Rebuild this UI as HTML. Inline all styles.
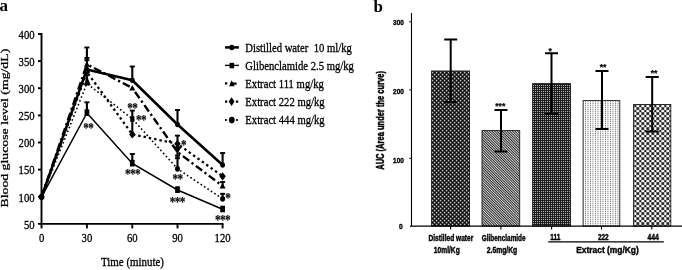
<!DOCTYPE html>
<html><head><meta charset="utf-8"><title>Figure</title>
<style>
html,body{margin:0;padding:0;background:#fff;}
svg{display:block;}
.se{font-family:"Liberation Serif","DejaVu Serif",serif;fill:#000;white-space:pre;}
.sa{font-family:"Liberation Sans","DejaVu Sans",sans-serif;fill:#000;font-weight:bold;}
</style></head><body>
<svg width="682" height="270" viewBox="0 0 682 270">
<defs>
<pattern id="p1" width="4" height="4" patternUnits="userSpaceOnUse" patternTransform="translate(431.8 151.75)"><rect width="4" height="4" fill="#000"/><rect x="0" y="0" width="1.4" height="1.5" fill="#fff"/><rect x="2" y="2" width="1.4" height="1.5" fill="#fff"/></pattern>
<pattern id="p2" width="1.8" height="1.8" patternUnits="userSpaceOnUse" patternTransform="rotate(45)"><rect width="1.8" height="1.8" fill="#e8e8e8"/><rect width="1.8" height="0.95" fill="#222"/></pattern>
<pattern id="p3" width="2" height="2" patternUnits="userSpaceOnUse" patternTransform="translate(533 85)"><rect width="2" height="2" fill="#1c1c1c"/><rect x="0" y="0" width="1" height="1" fill="#b4b4b4"/></pattern>
<pattern id="p4" width="5" height="2" patternUnits="userSpaceOnUse" patternTransform="translate(585 101)"><rect width="5" height="2" fill="#fff"/><rect x="0" y="0" width="0.9" height="1.3" fill="#777"/><rect x="2.5" y="0" width="0.9" height="1.3" fill="#777"/></pattern>
<pattern id="p5" width="5" height="5" patternUnits="userSpaceOnUse" patternTransform="translate(635.3 106.1)"><rect width="5" height="5" fill="#fff"/><path d="M0 0L5 5M5 0L0 5" stroke="#333" stroke-width="0.9"/><circle cx="2.5" cy="2.5" r="1.2" fill="#000"/><path d="M0 -1.25L1.25 0L0 1.25L-1.25 0ZM0 3.75L1.25 5L0 6.25L-1.25 5ZM5 -1.25L6.25 0L5 1.25L3.75 0ZM5 3.75L6.25 5L5 6.25L3.75 5Z" fill="#000"/></pattern>
</defs>
<rect width="682" height="270" fill="#fff"/>

<text class="se" x="-0.6" y="11" font-size="17" font-weight="bold">a</text>
<text class="se" x="373.5" y="11.5" font-size="17" font-weight="bold">b</text>
<g stroke="#000" stroke-width="1.9" fill="none">
<path d="M41.5 33V228.4"/>
<path d="M38 223.9H223.5"/>
<path d="M38 196.8H41.5"/>
<path d="M38 169.6H41.5"/>
<path d="M38 142.5H41.5"/>
<path d="M38 115.4H41.5"/>
<path d="M38 88.2H41.5"/>
<path d="M38 61.1H41.5"/>
<path d="M38 34.0H41.5"/>
<path d="M86.9 224V228.4"/>
<path d="M132.3 224V228.4"/>
<path d="M177.5 224V228.4"/>
<path d="M222.6 224V228.4"/>
</g>
<text class="se" transform="translate(34.6 228.6) scale(0.79 1)" font-size="13.5" text-anchor="end" stroke="#000" stroke-width="0.32" xml:space="preserve">50</text>
<text class="se" transform="translate(34.6 201.5) scale(0.79 1)" font-size="13.5" text-anchor="end" stroke="#000" stroke-width="0.32" xml:space="preserve">100</text>
<text class="se" transform="translate(34.6 174.3) scale(0.79 1)" font-size="13.5" text-anchor="end" stroke="#000" stroke-width="0.32" xml:space="preserve">150</text>
<text class="se" transform="translate(34.6 147.2) scale(0.79 1)" font-size="13.5" text-anchor="end" stroke="#000" stroke-width="0.32" xml:space="preserve">200</text>
<text class="se" transform="translate(34.6 120.1) scale(0.79 1)" font-size="13.5" text-anchor="end" stroke="#000" stroke-width="0.32" xml:space="preserve">250</text>
<text class="se" transform="translate(34.6 93.0) scale(0.79 1)" font-size="13.5" text-anchor="end" stroke="#000" stroke-width="0.32" xml:space="preserve">300</text>
<text class="se" transform="translate(34.6 65.8) scale(0.79 1)" font-size="13.5" text-anchor="end" stroke="#000" stroke-width="0.32" xml:space="preserve">350</text>
<text class="se" transform="translate(34.6 38.7) scale(0.79 1)" font-size="13.5" text-anchor="end" stroke="#000" stroke-width="0.32" xml:space="preserve">400</text>
<text class="se" transform="translate(41.6 242) scale(0.79 1)" font-size="13.5" text-anchor="middle" stroke="#000" stroke-width="0.32" xml:space="preserve">0</text>
<text class="se" transform="translate(86.9 242) scale(0.79 1)" font-size="13.5" text-anchor="middle" stroke="#000" stroke-width="0.32" xml:space="preserve">30</text>
<text class="se" transform="translate(132.3 242) scale(0.79 1)" font-size="13.5" text-anchor="middle" stroke="#000" stroke-width="0.32" xml:space="preserve">60</text>
<text class="se" transform="translate(177.5 242) scale(0.79 1)" font-size="13.5" text-anchor="middle" stroke="#000" stroke-width="0.32" xml:space="preserve">90</text>
<text class="se" transform="translate(222.6 242) scale(0.79 1)" font-size="13.5" text-anchor="middle" stroke="#000" stroke-width="0.32" xml:space="preserve">120</text>
<text class="se" transform="translate(132.5 266) scale(0.81 1)" font-size="13.5" text-anchor="middle" stroke="#000" stroke-width="0.32" xml:space="preserve">Time (minute)</text>
<text class="se" transform="translate(7.9 207.5) rotate(-90) scale(0.985 0.78)" font-size="14" stroke="#000" stroke-width="0.35">Blood glucose level (mg/dL)</text>
<polyline points="41.6,196.8 86.9,83.5 132.3,118.8 177.5,168.8 222.6,198.8" fill="none" stroke="#000" stroke-width="1.6" stroke-dasharray="1.6 2.5"/>
<polyline points="41.6,196.8 86.9,72.0 132.3,134.4 177.5,143.8 222.6,176.3" fill="none" stroke="#000" stroke-width="2.3" stroke-dasharray="2.4 3.0"/>
<path d="M41.6 196.8L86.9 64.3" fill="none" stroke="#000" stroke-width="2.4" stroke-dasharray="7.8 3.1 2.2 3.1" stroke-dashoffset="0"/>
<path d="M86.9 64.3L132.3 88.0" fill="none" stroke="#000" stroke-width="2.4" stroke-dasharray="7.8 3.1 2.2 3.1" stroke-dashoffset="8.1"/>
<path d="M132.3 88.0L177.5 152.0" fill="none" stroke="#000" stroke-width="2.4" stroke-dasharray="7.8 3.1 2.2 3.1" stroke-dashoffset="11.5"/>
<path d="M177.5 152.0L222.6 186.0" fill="none" stroke="#000" stroke-width="2.4" stroke-dasharray="7.8 3.1 2.2 3.1" stroke-dashoffset="9.4"/>
<polyline points="41.6,196.8 86.9,113.0 132.3,163.5 177.5,190.0 222.6,209.3" fill="none" stroke="#000" stroke-width="1.5"/>
<polyline points="41.6,196.8 86.9,69.4 132.3,80.3 177.5,124.5 222.6,165.0" fill="none" stroke="#000" stroke-width="2.6" stroke-linejoin="round"/>
<path d="M86.9 47.5V84" stroke="#000" stroke-width="2.1" fill="none"/>
<path d="M84.4 47.5H89.4" stroke="#000" stroke-width="1.9" fill="none"/>
<path d="M84.4 58H89.4" stroke="#000" stroke-width="1.9" fill="none"/>
<path d="M84.4 60.2H89.4" stroke="#000" stroke-width="1.9" fill="none"/>
<path d="M86.9 102.3V113" stroke="#000" stroke-width="2.1" fill="none"/>
<path d="M84.4 102.3H89.4" stroke="#000" stroke-width="1.9" fill="none"/>
<path d="M132.3 66.5V81" stroke="#000" stroke-width="2.1" fill="none"/>
<path d="M129.8 66.5H134.8" stroke="#000" stroke-width="1.9" fill="none"/>
<path d="M132.3 110.6V134" stroke="#000" stroke-width="2.1" fill="none"/>
<path d="M129.8 110.6H134.8" stroke="#000" stroke-width="1.9" fill="none"/>
<path d="M132.3 154V163" stroke="#000" stroke-width="2.1" fill="none"/>
<path d="M129.8 154H134.8" stroke="#000" stroke-width="1.9" fill="none"/>
<path d="M177.5 110V124.5" stroke="#000" stroke-width="2.1" fill="none"/>
<path d="M175.0 110H180.0" stroke="#000" stroke-width="1.9" fill="none"/>
<path d="M177.5 135.6V169" stroke="#000" stroke-width="2.1" fill="none"/>
<path d="M175.0 135.6H180.0" stroke="#000" stroke-width="1.9" fill="none"/>
<path d="M175.0 155.6H180.0" stroke="#000" stroke-width="1.9" fill="none"/>
<path d="M175.0 158.2H180.0" stroke="#000" stroke-width="1.9" fill="none"/>
<path d="M177.5 186.5V191" stroke="#000" stroke-width="2.1" fill="none"/>
<path d="M222.6 153V165" stroke="#000" stroke-width="2.1" fill="none"/>
<path d="M220.1 153H225.1" stroke="#000" stroke-width="1.9" fill="none"/>
<path d="M222.6 182V186" stroke="#000" stroke-width="2.1" fill="none"/>
<path d="M220.1 182H225.1" stroke="#000" stroke-width="1.9" fill="none"/>
<path d="M222.6 193.8V199" stroke="#000" stroke-width="2.1" fill="none"/>
<path d="M220.1 193.8H225.1" stroke="#000" stroke-width="1.9" fill="none"/>
<ellipse cx="41.6" cy="196.8" rx="2.4" ry="2.76" fill="#000"/>
<ellipse cx="86.9" cy="69.4" rx="2.4" ry="2.76" fill="#000"/>
<ellipse cx="132.3" cy="80.3" rx="2.4" ry="2.76" fill="#000"/>
<ellipse cx="177.5" cy="124.5" rx="2.4" ry="2.76" fill="#000"/>
<ellipse cx="222.6" cy="165.0" rx="2.4" ry="2.76" fill="#000"/>
<rect x="39.4" y="194.6" width="4.4" height="4.4" fill="#000"/>
<rect x="84.55000000000001" y="109.4" width="4.7" height="6.6" fill="#000"/>
<rect x="129.95000000000002" y="159.9" width="4.7" height="6.6" fill="#000"/>
<rect x="175.15" y="186.4" width="4.7" height="6.6" fill="#000"/>
<rect x="220.25" y="205.7" width="4.7" height="6.6" fill="#000"/>
<path d="M41.6 193.8L44.6 199.2H38.6Z" fill="#000"/>
<path d="M86.9 61.3L89.9 66.7H83.9Z" fill="#000"/>
<path d="M132.3 85.0L135.3 90.4H129.3Z" fill="#000"/>
<path d="M173.1 146.4H181.9L177.5 153.4Z" fill="#000"/>
<path d="M222.6 183.0L225.6 188.4H219.6Z" fill="#000"/>
<path d="M41.6 192.7L44.800000000000004 196.8L41.6 200.9L38.4 196.8Z" fill="#000"/>
<path d="M86.9 67.9L90.10000000000001 72.0L86.9 76.1L83.7 72.0Z" fill="#000"/>
<path d="M132.3 130.3L135.5 134.4L132.3 138.5L129.10000000000002 134.4Z" fill="#000"/>
<path d="M177.5 139.7L180.7 143.8L177.5 147.9L174.3 143.8Z" fill="#000"/>
<path d="M222.6 172.2L225.79999999999998 176.3L222.6 180.4L219.4 176.3Z" fill="#000"/>
<ellipse cx="41.6" cy="196.8" rx="2.5" ry="2.88" fill="#000"/>
<path d="M87.2 77.3L90.30000000000001 85H84.10000000000001Z" fill="#000" stroke="#000" stroke-width="0.6" stroke-linejoin="round"/>
<rect x="130.20000000000002" y="116.2" width="4.2" height="5.6" fill="#000"/>
<ellipse cx="177.5" cy="168.8" rx="2.5" ry="2.88" fill="#000"/>
<ellipse cx="222.6" cy="198.8" rx="2.5" ry="2.88" fill="#000"/>
<text class="se" transform="translate(88.2 132.7) scale(0.75 1)" font-size="15" text-anchor="middle" font-weight="bold" letter-spacing="-0.9" stroke="#000" stroke-width="0.12">**</text>
<text class="se" transform="translate(132.3 112.9) scale(0.75 1)" font-size="15" text-anchor="middle" font-weight="bold" letter-spacing="-0.9" stroke="#000" stroke-width="0.12">**</text>
<text class="se" transform="translate(141 125.4) scale(0.75 1)" font-size="15" text-anchor="middle" font-weight="bold" letter-spacing="-0.9" stroke="#000" stroke-width="0.12">**</text>
<text class="se" transform="translate(132.5 179.4) scale(0.75 1)" font-size="15" text-anchor="middle" font-weight="bold" letter-spacing="-0.9" stroke="#000" stroke-width="0.12">***</text>
<text class="se" transform="translate(183.5 149.9) scale(0.75 1)" font-size="15" text-anchor="middle" font-weight="bold" letter-spacing="-0.9" stroke="#000" stroke-width="0.12">*</text>
<text class="se" transform="translate(177.5 184.4) scale(0.75 1)" font-size="15" text-anchor="middle" font-weight="bold" letter-spacing="-0.9" stroke="#000" stroke-width="0.12">**</text>
<text class="se" transform="translate(177.2 206.9) scale(0.75 1)" font-size="15" text-anchor="middle" font-weight="bold" letter-spacing="-0.9" stroke="#000" stroke-width="0.12">***</text>
<text class="se" transform="translate(227.8 202.9) scale(0.75 1)" font-size="15" text-anchor="middle" font-weight="bold" letter-spacing="-0.9" stroke="#000" stroke-width="0.12">*</text>
<text class="se" transform="translate(222.5 225.4) scale(0.75 1)" font-size="15" text-anchor="middle" font-weight="bold" letter-spacing="-0.9" stroke="#000" stroke-width="0.12">***</text>
<text class="se" transform="translate(245.3 52.2) scale(0.79 1)" font-size="13.5" text-anchor="start" stroke="#000" stroke-width="0.32" xml:space="preserve">Distilled water  10 ml/kg</text>
<text class="se" transform="translate(245.3 70.1) scale(0.79 1)" font-size="13.5" text-anchor="start" stroke="#000" stroke-width="0.32" xml:space="preserve">Glibenclamide 2.5 mg/kg</text>
<text class="se" transform="translate(245.3 88.1) scale(0.79 1)" font-size="13.5" text-anchor="start" stroke="#000" stroke-width="0.32" xml:space="preserve">Extract 111 mg/kg</text>
<text class="se" transform="translate(245.3 106.1) scale(0.79 1)" font-size="13.5" text-anchor="start" stroke="#000" stroke-width="0.32" xml:space="preserve">Extract 222 mg/kg</text>
<text class="se" transform="translate(245.3 124.2) scale(0.79 1)" font-size="13.5" text-anchor="start" stroke="#000" stroke-width="0.32" xml:space="preserve">Extract 444 mg/kg</text>
<path d="M225 47.4H238.9" stroke="#000" stroke-width="2.5" />
<ellipse cx="231.8" cy="47.5" rx="2.5" ry="2.7" fill="#000"/>
<path d="M225 65.4H238.9" stroke="#000" stroke-width="1.4" />
<rect x="229.6" y="62.8" width="4.5" height="5.5" fill="#000"/>
<path d="M225 83.4H227.3M230.5 83.6H236.6" stroke="#000" stroke-width="2.4" />
<path d="M229.1 86.3L231.6 80.3L234.6 86.3Z" fill="#000"/>
<path d="M225 101.6H227.3M235.9 101.6H238.2" stroke="#000" stroke-width="2.3" />
<path d="M231.6 97.3L234.5 101.6L231.6 105.9L228.7 101.6Z" fill="#000"/>
<path d="M225 120H226.8M236.1 120H237.8" stroke="#000" stroke-width="1.8" />
<ellipse cx="231.8" cy="120.1" rx="2.9" ry="3.3" fill="#000"/>
<g stroke="#000" stroke-width="1.1" fill="none">
<path d="M411.5 13V226.7"/>
<path d="M409.3 21.8H411.5"/>
<path d="M409.3 89.9H411.5"/>
<path d="M409.3 158.3H411.5"/>
</g>
<text class="sa" x="403.9" y="24.65" font-size="7.8" text-anchor="end" textLength="10.8" lengthAdjust="spacingAndGlyphs" stroke="#000" stroke-width="0.38">300</text>
<text class="sa" x="403.9" y="94.0" font-size="7.8" text-anchor="end" textLength="10.8" lengthAdjust="spacingAndGlyphs" stroke="#000" stroke-width="0.38">200</text>
<text class="sa" x="403.9" y="163.0" font-size="7.8" text-anchor="end" textLength="10.8" lengthAdjust="spacingAndGlyphs" stroke="#000" stroke-width="0.38">100</text>
<text class="sa" x="402.6" y="229.1" font-size="7.8" text-anchor="end" textLength="3.7" lengthAdjust="spacingAndGlyphs" stroke="#000" stroke-width="0.38">0</text>
<rect x="431.59999999999997" y="71.0" width="37.9" height="155.1" fill="url(#p1)" stroke="#1a1a1a" stroke-width="0.9"/>
<path d="M450.6 226.1V229.6" stroke="#000" stroke-width="1.1"/>
<rect x="482.0" y="130.6" width="37.7" height="95.5" fill="url(#p2)" stroke="#1a1a1a" stroke-width="0.9"/>
<path d="M500.9 226.1V229.6" stroke="#000" stroke-width="1.1"/>
<rect x="532.6" y="83.60000000000001" width="37.9" height="142.5" fill="url(#p3)" stroke="#1a1a1a" stroke-width="0.9"/>
<path d="M551.6 226.1V229.6" stroke="#000" stroke-width="1.1"/>
<rect x="583.1" y="100.60000000000001" width="36.7" height="125.5" fill="url(#p4)" stroke="#1a1a1a" stroke-width="0.9"/>
<path d="M601.5 226.1V229.6" stroke="#000" stroke-width="1.1"/>
<rect x="633.6" y="104.5" width="37.2" height="121.6" fill="url(#p5)" stroke="#1a1a1a" stroke-width="0.9"/>
<path d="M651.8 226.1V229.6" stroke="#000" stroke-width="1.1"/>
<path d="M410 226.1H682" stroke="#000" stroke-width="1.3" fill="none"/>
<path d="M450.7 39.5V102M444.2 39.5H457.2M444.2 102H457.2" stroke="#000" stroke-width="2" fill="none"/>
<path d="M501 109.9V151.5M494.5 109.9H507.5M494.5 151.5H507.5" stroke="#000" stroke-width="2" fill="none"/>
<path d="M551.5 53.2V114M545.0 53.2H558.0M545.0 114H558.0" stroke="#000" stroke-width="2" fill="none"/>
<path d="M602 71.1V129M595.5 71.1H608.5M595.5 129H608.5" stroke="#000" stroke-width="2" fill="none"/>
<path d="M652.2 77V131.5M645.7 77H658.7M645.7 131.5H658.7" stroke="#000" stroke-width="2" fill="none"/>
<text class="sa" x="500.3" y="108.9" font-size="8.6" text-anchor="middle" stroke="#000" stroke-width="0.2">***</text>
<text class="sa" x="550.3" y="53.9" font-size="8.6" text-anchor="middle" stroke="#000" stroke-width="0.2">*</text>
<text class="sa" x="603.1" y="69.8" font-size="8.6" text-anchor="middle" stroke="#000" stroke-width="0.2">**</text>
<text class="sa" x="654.1" y="76.4" font-size="8.6" text-anchor="middle" stroke="#000" stroke-width="0.2">**</text>
<text class="sa" x="450.9" y="240.5" font-size="8.4" text-anchor="middle" textLength="44.8" lengthAdjust="spacingAndGlyphs" stroke="#000" stroke-width="0.38">Distilled water</text>
<text class="sa" x="446.8" y="252.7" font-size="8.4" text-anchor="middle" textLength="25.9" lengthAdjust="spacingAndGlyphs" stroke="#000" stroke-width="0.38">10ml/Kg</text>
<text class="sa" x="503.7" y="240.5" font-size="8.4" text-anchor="middle" textLength="43.8" lengthAdjust="spacingAndGlyphs" stroke="#000" stroke-width="0.38">Glibenclamide</text>
<text class="sa" x="502" y="252.7" font-size="8.4" text-anchor="middle" textLength="30.5" lengthAdjust="spacingAndGlyphs" stroke="#000" stroke-width="0.38">2.5mg/Kg</text>
<text class="sa" x="555.4" y="240.0" font-size="8.2" text-anchor="middle" textLength="10.2" lengthAdjust="spacingAndGlyphs" stroke="#000" stroke-width="0.38">111</text>
<text class="sa" x="603.3" y="240.0" font-size="8.2" text-anchor="middle" textLength="10.8" lengthAdjust="spacingAndGlyphs" stroke="#000" stroke-width="0.38">222</text>
<text class="sa" x="653.1" y="240.0" font-size="8.2" text-anchor="middle" textLength="11.4" lengthAdjust="spacingAndGlyphs" stroke="#000" stroke-width="0.38">444</text>
<path d="M548.2 241.8H663.8" stroke="#000" stroke-width="1.2"/>
<text class="sa" x="607.5" y="252.5" font-size="8.7" text-anchor="middle" textLength="62.6" lengthAdjust="spacingAndGlyphs" stroke="#000" stroke-width="0.38">Extract (mg/Kg)</text>
<text class="sa" transform="translate(384.4 169.8) rotate(-90) scale(0.655 1)" font-size="11.5" stroke="#000" stroke-width="0.5">AUC (Area under the curve)</text>
</svg></body></html>
